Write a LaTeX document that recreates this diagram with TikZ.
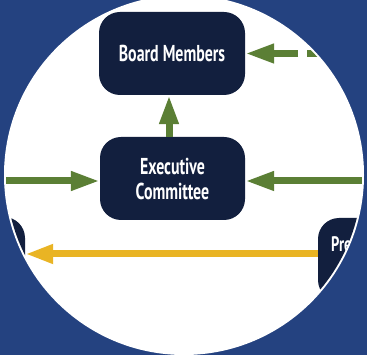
\documentclass[tikz,border=0pt]{standalone}
\usepackage{fontspec}
\setmainfont[FakeStretch=0.69]{PT Sans}
\usetikzlibrary{arrows.meta}
\definecolor{bgblue}{HTML}{244280}
\definecolor{navy}{HTML}{121F3E}
\definecolor{leaf}{HTML}{5B7F35}
\definecolor{gold}{HTML}{E9B424}
\begin{document}
\begin{tikzpicture}[x=1pt, y=-1pt,
        box/.style={rectangle, rounded corners=21pt, fill=navy, text=white,
            minimum width=146pt, minimum height=83pt, align=center,
            font=\fontsize{23}{25}\selectfont\bfseries},
        garrow/.style={-{Triangle[length=29pt, width=18pt]}, line width=7pt, draw=leaf},
        yarrow/.style={-{Triangle[length=28pt, width=18pt]}, line width=7pt, draw=gold}]

        % Background and disc
        \useasboundingbox (0,0) rectangle (367,355);
        \fill[bgblue] (0,0) rectangle (367,355);
        \fill[white] (184,175) circle[radius=180pt];
        \begin{scope}
        \clip (184,175) circle[radius=178pt];

        % Nodes (Bodies)
        \node[box] (BM) at (172,53.5) {Board Members};
        \node[box, minimum width=145pt] (EC) at (172.5,178.5) {Executive\\Committee};
        \node[box] (LB) at (-48,258.5) {};
        \node[box] (PR) at (391,259.5) {};
        \node[anchor=base west, text=white, inner sep=0pt,
            font=\fontsize{21}{24}\selectfont\bfseries] (PRtext) at (331,252) {Pre};

        % Free ends
        \coordinate (lsrc) at (0,181);
        \coordinate (rsrc) at (367,181);
        \coordinate (tsrc) at (330,53.5);
        \coordinate (vx) at (169,0);
        \coordinate (ylev) at (0,254);

        % Arcs (Links)
        \draw[garrow] (vx |- EC.north) -- (vx |- BM.south);
        \draw[garrow] (lsrc) -- (lsrc -| EC.west);
        \draw[garrow] (rsrc) -- (rsrc -| EC.east);
        \draw[garrow, dash pattern=on 23pt off 9pt on 200pt] (tsrc) -- (BM.east);
        \draw[yarrow] (PR.west |- ylev) -- (LB.east |- ylev);
        \end{scope}
    \end{tikzpicture}
\end{document}
